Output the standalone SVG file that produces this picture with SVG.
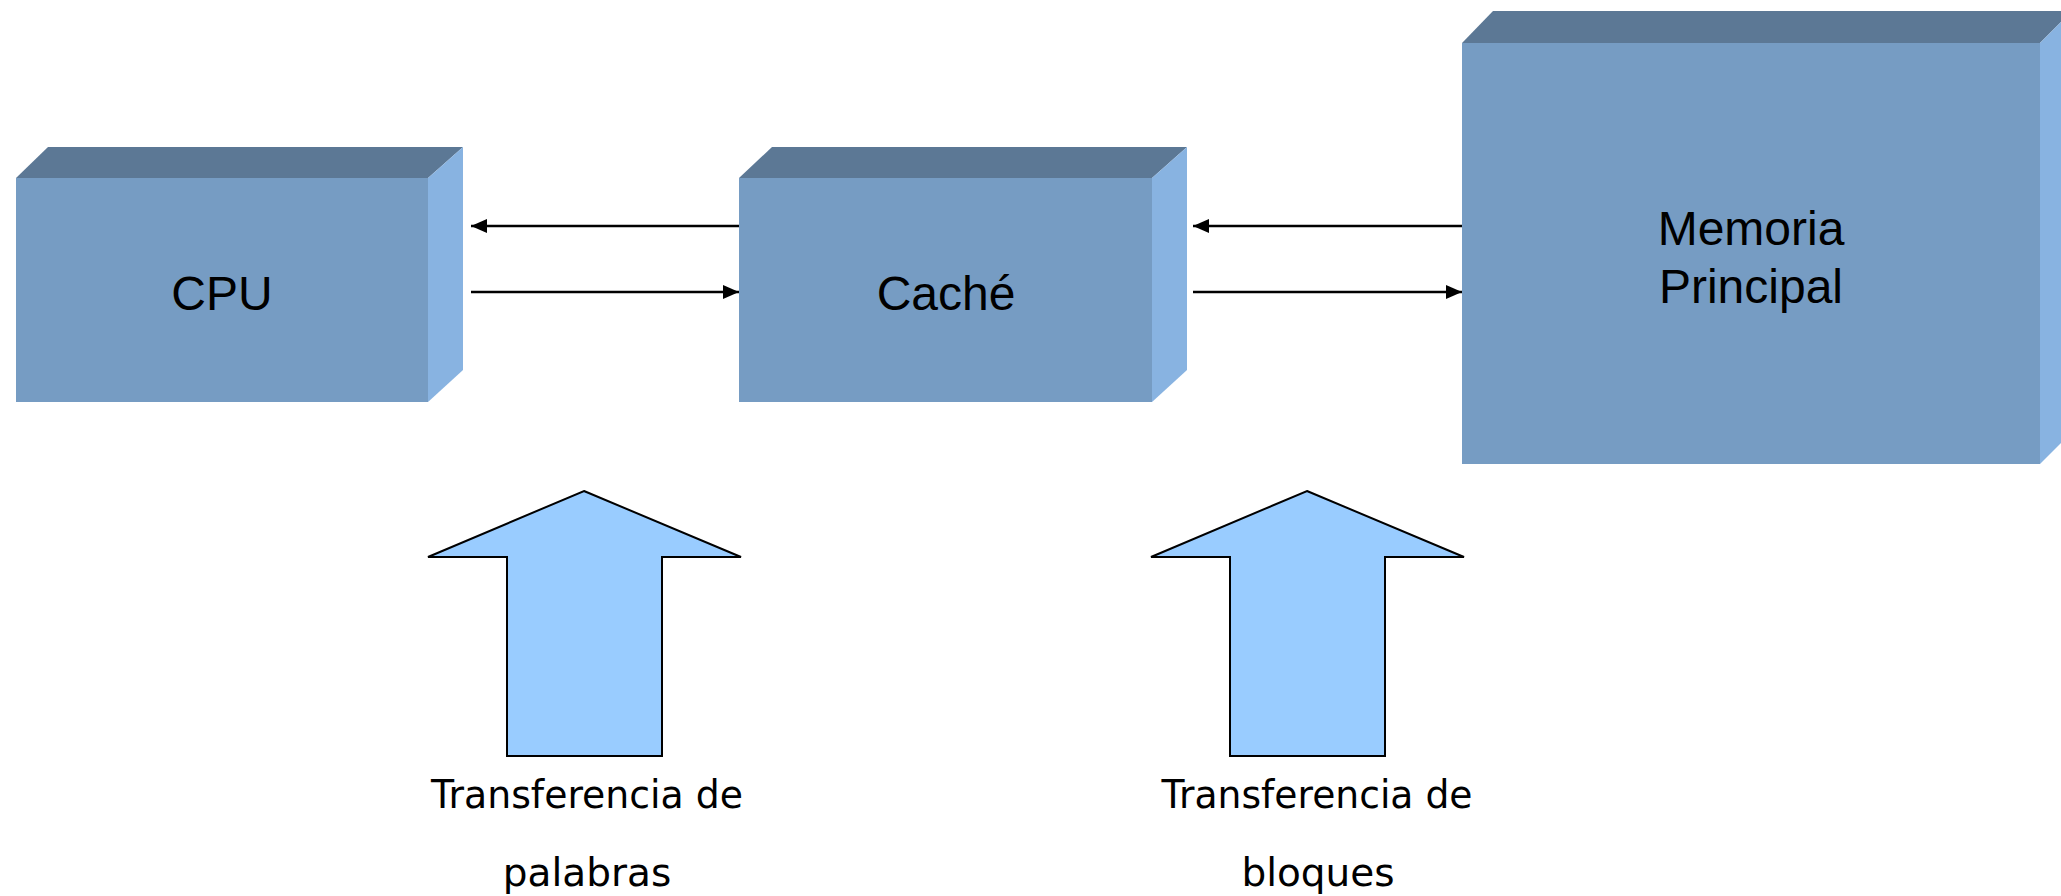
<svg xmlns="http://www.w3.org/2000/svg" width="2061" height="896" viewBox="0 0 2061 896">
<style>
.front{fill:#769CC3}
.top{fill:#5C7895}
.side{fill:#88B3E1}
.lbl{font-family:"Liberation Sans",Arial,sans-serif;font-size:48px;fill:#000;text-anchor:middle}
.cap{font-family:"DejaVu Sans",Verdana,sans-serif;font-size:39px;fill:#000;text-anchor:middle}
.blk{fill:#99CCFF;stroke:#000;stroke-width:2;stroke-linejoin:miter}
.con{stroke:#000;stroke-width:2.5;fill:none}
</style>
<defs>
<marker id="ah" markerWidth="16" markerHeight="14" refX="16" refY="7" orient="auto" markerUnits="userSpaceOnUse">
<path d="M0,0 L16,7 L0,14 Z" fill="#000"/>
</marker>
</defs>
<rect width="2061" height="896" fill="#fff"/>
<g id="cpu">
<polygon class="top" points="16,178 48,147 463,147 428,178"/>
<polygon class="side" points="428,178 463,147 463,370 428,402"/>
<rect class="front" x="16" y="178" width="412" height="224"/>
<text class="lbl" x="222" y="310">CPU</text>
</g>
<g id="cache">
<polygon class="top" points="739,178 772,147 1187,147 1152,178"/>
<polygon class="side" points="1152,178 1187,147 1187,370 1152,402"/>
<rect class="front" x="739" y="178" width="413" height="224"/>
<text class="lbl" x="946" y="310">Caché</text>
</g>
<g id="memoria">
<polygon class="top" points="1462,43 1493,11 2072,11 2040,43"/>
<polygon class="side" points="2040,43 2072,11 2072,432 2040,464"/>
<rect class="front" x="1462" y="43" width="578" height="421"/>
<text class="lbl" x="1751" y="245">Memoria</text>
<text class="lbl" x="1751" y="303">Principal</text>
</g>
<g id="connectors">
<line class="con" x1="739" y1="226" x2="471" y2="226" marker-end="url(#ah)"/>
<line class="con" x1="471" y1="292" x2="739" y2="292" marker-end="url(#ah)"/>
<line class="con" x1="1462" y1="226" x2="1193" y2="226" marker-end="url(#ah)"/>
<line class="con" x1="1193" y1="292" x2="1462" y2="292" marker-end="url(#ah)"/>
</g>
<g id="palabras">
<polygon class="blk" points="584,491 741,557 662,557 662,756 507,756 507,557 428,557"/>
<text class="cap" x="587" y="808" textLength="312" lengthAdjust="spacingAndGlyphs">Transferencia de</text>
<text class="cap" x="587" y="886">palabras</text>
</g>
<g id="bloques">
<polygon class="blk" points="1307,491 1464,557 1385,557 1385,756 1230,756 1230,557 1151,557"/>
<text class="cap" x="1317" y="808" textLength="311" lengthAdjust="spacingAndGlyphs">Transferencia de</text>
<text class="cap" x="1318" y="886">bloques</text>
</g>
</svg>
